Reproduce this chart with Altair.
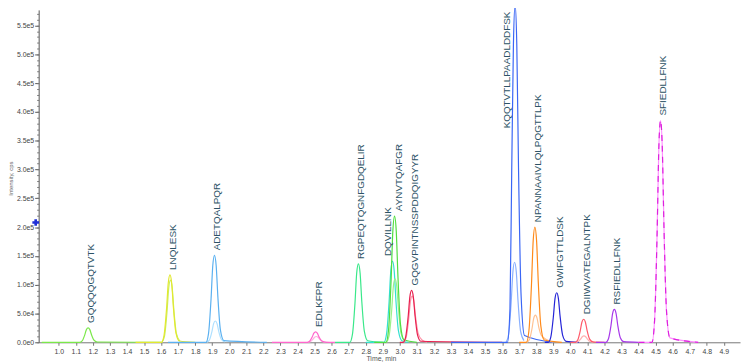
import altair as alt
import pandas as pd

# ---------------- data ----------------
PEPTIDES = ["GQQQQGQTVTK", "LNQLESK", "ADETQALPQR", "EDLKFPR", "RGPEQTQGNFGDQELIR",
            "DQVILLNK", "AYNVTQAFGR", "GQGVPINTNSSPDDQIGYYR", "KQQTVTLLPAADLDDFSK",
            "NPANNAAIVLQLPQGTTLPK", "GWIFGTTLDSK", "DGIIWVATEGALNTPK", "RSFIEDLLFNK",
            "SFIEDLLFNK"]
APEX_TIME = [1.172, 1.652, 1.913, 2.506, 2.757, 2.957, 2.969, 3.069, 3.676, 3.792,
             3.920, 4.078, 4.258, 4.529]
APEX_INT = [25000, 117000, 151000, 18000, 136000, 141000, 219000, 90000, 586000,
            200000, 86000, 40000, 57000, 385000]

THRESHOLD_INT = 208000

# traces: time (min) / intensity (cps)
GQQ_T = [0.90, 1.122, 1.137, 1.152, 1.162, 1.172, 1.182, 1.192, 1.207, 1.227, 1.60]
GQQ_I = [0, 0, 2500, 12500, 22000, 25000, 22000, 13000, 3500, 500, 0]

LNQ_T = [1.45, 1.602, 1.617, 1.632, 1.642, 1.652, 1.662, 1.672, 1.687, 1.707, 1.80]
LNQ_I = [0, 0, 11700, 58500, 103000, 117000, 103000, 61000, 16400, 2300, 0]
LNQ2_T = [1.605, 1.62, 1.635, 1.645, 1.655, 1.665, 1.675, 1.69, 1.71]
LNQ2_I = [0, 10800, 54000, 95000, 108000, 95000, 56000, 15000, 2000]

ADE_T = [1.64, 1.863, 1.878, 1.893, 1.903, 1.913, 1.923, 1.933, 1.948, 1.968, 2.22]
ADE_I = [0, 0, 15100, 75500, 133000, 151000, 133000, 78500, 21000, 3000, 0]
ADE2_T = [1.868, 1.883, 1.898, 1.908, 1.918, 1.928, 1.938, 1.953, 1.973]
ADE2_I = [0, 3700, 18500, 32500, 37000, 32500, 19000, 5200, 700]

EDL_T = [2.25, 2.456, 2.471, 2.486, 2.496, 2.506, 2.516, 2.526, 2.541, 2.561, 2.62]
EDL_I = [0, 0, 1800, 9000, 15800, 18000, 15800, 9400, 2500, 400, 0]
EDL2_T = [2.46, 2.475, 2.49, 2.50, 2.51, 2.52, 2.53, 2.545, 2.565]
EDL2_I = [0, 1000, 5000, 8800, 10000, 8800, 5200, 1400, 200]

RGP_T = [2.62, 2.707, 2.722, 2.737, 2.747, 2.757, 2.767, 2.777, 2.792, 2.812, 2.90]
RGP_I = [0, 0, 13600, 68000, 120000, 136000, 120000, 70700, 19000, 2700, 0]

DQV_T = [2.80, 2.907, 2.922, 2.937, 2.947, 2.957, 2.967, 2.977, 2.992, 3.012, 3.05]
DQV_I = [0, 0, 14100, 70500, 124000, 141000, 124000, 73000, 19700, 2800, 0]

AYN_T = [2.85, 2.919, 2.934, 2.949, 2.959, 2.969, 2.979, 2.989, 3.004, 3.024, 3.10]
AYN_I = [0, 0, 21900, 109500, 193000, 219000, 193000, 114000, 30700, 4400, 0]
AYN2_T = [2.922, 2.937, 2.952, 2.962, 2.972, 2.982, 2.992, 3.007, 3.027]
AYN2_I = [0, 11000, 55000, 96800, 110000, 96800, 57200, 15400, 2200]

GQG_T = [3.00, 3.019, 3.034, 3.049, 3.059, 3.069, 3.079, 3.089, 3.104, 3.124, 3.60]
GQG_I = [0, 0, 9000, 45000, 79200, 90000, 79200, 46800, 12600, 1800, 0]
GQG2_T = [3.022, 3.037, 3.052, 3.062, 3.072, 3.082, 3.092, 3.107, 3.13, 3.16]
GQG2_I = [0, 8000, 40000, 70400, 80000, 72000, 45000, 16000, 4000, 0]

KQQ_T = [3.30, 3.631, 3.646, 3.656, 3.666, 3.676, 3.686, 3.696, 3.711, 3.731, 3.90]
KQQ_I = [0, 0, 58600, 293000, 515000, 586000, 515000, 303000, 82000, 11700, 0]
KQQ2_T = [3.623, 3.638, 3.653, 3.663, 3.673, 3.683, 3.693, 3.708, 3.728]
KQQ2_I = [0, 13900, 69500, 122000, 139000, 122000, 72300, 19500, 2800]

NPA_T = [3.70, 3.742, 3.757, 3.772, 3.782, 3.792, 3.802, 3.812, 3.827, 3.847, 3.95]
NPA_I = [0, 0, 20000, 100000, 176000, 200000, 176000, 104000, 28000, 4000, 0]
NPA2_T = [3.745, 3.76, 3.775, 3.785, 3.795, 3.805, 3.815, 3.83, 3.86, 3.90]
NPA2_I = [0, 4700, 23500, 41400, 47000, 41400, 26000, 12000, 5000, 0]

GWI_T = [3.85, 3.870, 3.885, 3.900, 3.910, 3.920, 3.930, 3.940, 3.955, 3.975, 4.05]
GWI_I = [0, 0, 8600, 43000, 75700, 86000, 75700, 44700, 12000, 1700, 0]

DGI_T = [4.00, 4.028, 4.043, 4.058, 4.068, 4.078, 4.088, 4.098, 4.113, 4.133, 4.20]
DGI_I = [0, 0, 4000, 20000, 35200, 40000, 35200, 20800, 5600, 800, 0]
DGI2_T = [4.03, 4.045, 4.06, 4.07, 4.08, 4.09, 4.10, 4.115, 4.135]
DGI2_I = [0, 1100, 5500, 9700, 11000, 9700, 5700, 1500, 200]

RSF_T = [4.15, 4.208, 4.223, 4.238, 4.248, 4.258, 4.268, 4.278, 4.293, 4.313, 4.40]
RSF_I = [0, 0, 5700, 28500, 50200, 57000, 50200, 29600, 8000, 1100, 0]

SFI_T = [4.40, 4.479, 4.494, 4.509, 4.519, 4.529, 4.539, 4.549, 4.564, 4.584, 4.75]
SFI_I = [0, 0, 38500, 192500, 339000, 385000, 339000, 200000, 54000, 7700, 0]

X_TICKS = [round(1.0 + 0.1 * k, 1) for k in range(40)]
Y_TICKS = [0, 50000, 100000, 150000, 200000, 250000, 300000, 350000, 400000,
           450000, 500000, 550000]
Y_MINOR = list(range(0, 577000, 10000))

# ---------------- styles ----------------
TRACES = [
    ("GQQ", GQQ_T, GQQ_I, "#7be84a"),
    ("LNQ2", LNQ2_T, LNQ2_I, "#c8f060"),
    ("LNQ", LNQ_T, LNQ_I, "#e2e830"),
    ("ADE2", ADE2_T, ADE2_I, "#aee0ff"),
    ("ADE", ADE_T, ADE_I, "#5ab0f0"),
    ("EDL2", EDL2_T, EDL2_I, "#ffb0e0"),
    ("EDL", EDL_T, EDL_I, "#ff66cc"),
    ("RGP", RGP_T, RGP_I, "#3ae88a"),
    ("DQV", DQV_T, DQV_I, "#33e0d0"),
    ("AYN2", AYN2_T, AYN2_I, "#9cf08a"),
    ("AYN", AYN_T, AYN_I, "#50dd40"),
    ("GQG2", GQG2_T, GQG2_I, "#ff93a8"),
    ("GQG", GQG_T, GQG_I, "#e8204f"),
    ("KQQ2", KQQ2_T, KQQ2_I, "#8ab0ff"),
    ("KQQ", KQQ_T, KQQ_I, "#3a66f5"),
    ("NPA2", NPA2_T, NPA2_I, "#ffc090"),
    ("NPA", NPA_T, NPA_I, "#ff8a1a"),
    ("GWI", GWI_T, GWI_I, "#2424d8"),
    ("DGI2", DGI2_T, DGI2_I, "#ffb0b0"),
    ("DGI", DGI_T, DGI_I, "#ff5a6a"),
    ("RSF", RSF_T, RSF_I, "#a838ea"),
    ("SFI", SFI_T, SFI_I, "#ff90ff"),
]

rows = []
for name, ts, vs, _c in TRACES:
    for k, (t, v) in enumerate(zip(ts, vs)):
        rows.append({"trace": name, "t": t, "i": v, "k": k})
df = pd.DataFrame(rows)

names = [tr[0] for tr in TRACES]
colors = [tr[3] for tr in TRACES]

X_DOM = [0.882, 4.995]
Y_DOM = [0, 577000]
FONT = "Liberation Sans"
LABEL_COLOR = "#2d5366"

x_scale = alt.Scale(domain=X_DOM, nice=False, zero=False)
y_scale = alt.Scale(domain=Y_DOM, nice=False)

x_axis = alt.Axis(values=X_TICKS, format=".1f", title="Time, min",
                  labelFontSize=7, labelColor="#444", labelFont=FONT,
                  labelPadding=2, tickSize=3, tickColor="#777",
                  domainColor="#777", titleFontSize=7, titleFont=FONT,
                  titleColor="#555", titleFontWeight="normal",
                  titlePadding=0, titleX=346, grid=False,
                  labelFlush=False, labelOverlap=False, labelBound=False)
y_axis = alt.Axis(values=Y_TICKS,
                  labelExpr="replace(format(datum.value, '.1e'), '+', '')",
                  title="Intensity, cps", titleFontSize=6, titleFont=FONT,
                  titleColor="#666", titleFontWeight="normal",
                  titleX=-25, titleY=170,
                  labelFontSize=7, labelColor="#444", labelFont=FONT,
                  labelPadding=1, tickSize=4,
                  tickColor="#555", domainColor="#555", grid=False,
                  labelOverlap=False, labelFlush=False, labelBound=False)
y_axis_minor = alt.Axis(values=Y_MINOR, labels=False, title=None, domain=False,
                        orient="left", offset=0, tickSize=2, tickColor="#777",
                        grid=False)

X_ENC = alt.X("t:Q", scale=x_scale, axis=x_axis)
Y_ENC = alt.Y("i:Q", scale=y_scale, axis=y_axis)

lines = alt.Chart(df).mark_line(strokeWidth=1.2, clip=False, interpolate="monotone").encode(
    x=X_ENC, y=Y_ENC,
    color=alt.Color("trace:N", scale=alt.Scale(domain=names, range=colors), legend=None),
    detail="trace:N",
    order="k:Q",
)

sfi_df = pd.DataFrame({"t": SFI_T, "i": SFI_I})
sfi_dash = alt.Chart(sfi_df).mark_line(strokeWidth=1.2, color="#dd22dd", strokeDash=[6, 5],
                                        clip=False, interpolate="monotone").encode(
    x=X_ENC, y=Y_ENC)

lab = pd.DataFrame({"name": PEPTIDES, "t": APEX_TIME, "i": APEX_INT})
special = ["KQQTVTLLPAADLDDFSK", "DQVILLNK", "AYNVTQAFGR"]


def text_layer(data, **kw):
    base = dict(angle=270, baseline="middle", fontSize=10, font=FONT,
                color=LABEL_COLOR, clip=False)
    base.update(kw)
    return alt.Chart(data).mark_text(**base).encode(x=X_ENC, y=Y_ENC, text="name:N")


labels_main = text_layer(lab[~lab["name"].isin(special)], align="left", dx=5, dy=3)
label_kqq = text_layer(lab[lab["name"] == "KQQTVTLLPAADLDDFSK"], align="right", dx=-7, dy=-8)
label_dqv = text_layer(lab[lab["name"] == "DQVILLNK"], align="left", dx=5, dy=-5)
label_ayn = text_layer(lab[lab["name"] == "AYNVTQAFGR"], align="left", dx=5, dy=5)

thr = pd.DataFrame({"t": [X_DOM[0]], "i": [THRESHOLD_INT]})
marker = alt.Chart(thr).mark_point(shape="cross", filled=True, size=45, color="#1f2fd6",
                                   opacity=1, clip=False, xOffset=-3).encode(x=X_ENC, y=Y_ENC)

main = alt.layer(lines, sfi_dash, labels_main, label_kqq, label_dqv, label_ayn, marker)

minor_df = pd.DataFrame({"t": [X_DOM[0]], "i": [0]})
minor = alt.Chart(minor_df).mark_point(opacity=0).encode(
    x=X_ENC,
    y=alt.Y("i:Q", scale=y_scale, axis=y_axis_minor))

chart = alt.layer(main, minor).resolve_axis(y="independent").properties(
    width=709, height=336,
    autosize=alt.AutoSizeParams(type="none"),
    padding={"left": 31, "top": 0, "right": 2, "bottom": 19},
    background="white",
).configure_view(stroke=None).configure_axis(labelOverlap=False)

chart.save("out.html", embed_options={"renderer": "svg", "actions": False})
